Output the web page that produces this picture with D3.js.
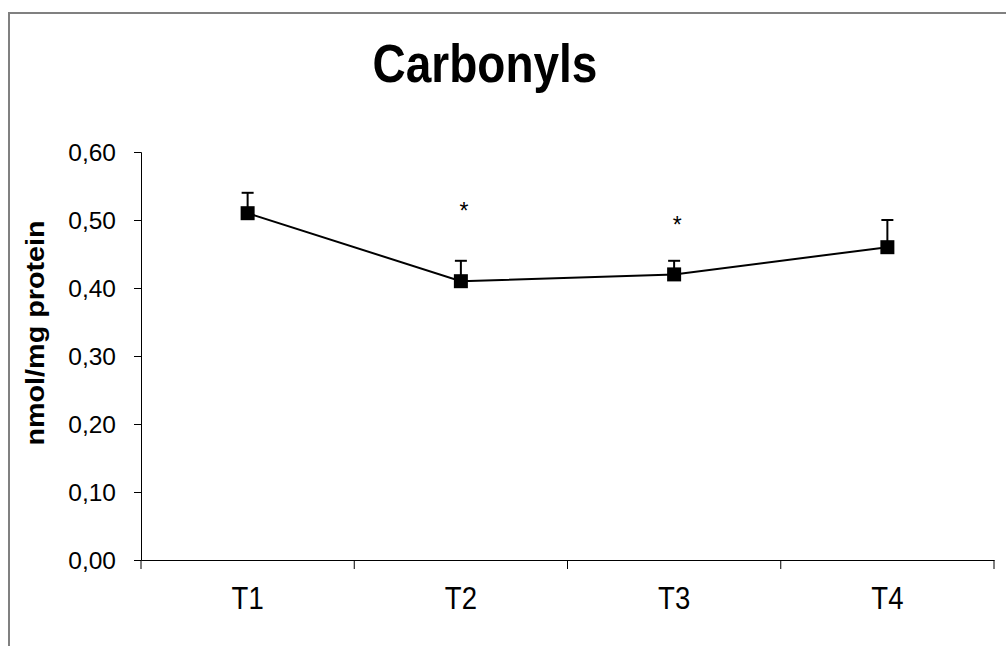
<!DOCTYPE html>
<meta charset="utf-8">
<style>
    body { margin: 0; background: #fff; }
    text { font-family: "Liberation Sans", Arial, sans-serif; fill: #000; }
</style>
<script src="https://d3js.org/d3.v7.min.js"></script>
<div id="chart"></div>
<script>
var categories = ["T1", "T2", "T3", "T4"];
var means = [0.51, 0.41, 0.42, 0.46];
var errors = [0.03, 0.03, 0.02, 0.04];
var stars = ["", "*", "*", ""];
var starValues = [null, 0.52, 0.50, null];
var yTicks = [0, 0.1, 0.2, 0.3, 0.4, 0.5, 0.6];

var width = 1006, height = 646;
var svg = d3.select("#chart").append("svg")
    .attr("width", width)
    .attr("height", height);

// outer frame (right and bottom edges fall outside the picture)
svg.append("rect")
    .attr("x", 9).attr("y", 13)
    .attr("width", 1020).attr("height", 660)
    .attr("fill", "none")
    .attr("stroke", "#808080")
    .attr("stroke-width", 2);

var x = d3.scaleBand().domain(categories).range([141, 994]);
var y = d3.scaleLinear().domain([0, 0.6]).range([560, 152]);
var fmt = function (d) { return d3.format(".2f")(d).replace(".", ","); };

svg.append("text")
    .attr("transform", "translate(485,82) scale(1,1.15)")
    .attr("text-anchor", "middle")
    .style("font-size", "46px").style("font-weight", "bold")
    .text("Carbonyls");

var yAxis = svg.append("g")
    .attr("transform", "translate(141,0)")
    .call(d3.axisLeft(y).tickValues(yTicks).tickFormat(fmt).tickSize(7).tickPadding(18));
yAxis.selectAll("text").style("font-size", "24.5px").attr("dy", "0.35em");

var xAxis = svg.append("g")
    .attr("transform", "translate(0,560)")
    .call(d3.axisBottom(x).tickSize(0).tickFormat(""));
// category labels, slightly stretched vertically like the original
xAxis.selectAll(".tick").append("text")
    .attr("transform", "translate(0,49) scale(1,1.13)")
    .attr("text-anchor", "middle")
    .style("font-size", "27.5px")
    .text(function (d) { return d; });
// category boundary ticks
xAxis.selectAll(".bound")
    .data(d3.range(categories.length + 1))
    .enter().append("line")
    .attr("class", "bound")
    .attr("x1", function (i) { return 141 + i * x.step(); })
    .attr("x2", function (i) { return 141 + i * x.step(); })
    .attr("y1", 0).attr("y2", 9)
    .attr("stroke", "#000");
svg.selectAll(".domain").attr("stroke", "#000").attr("stroke-width", 1);
svg.selectAll(".tick line").attr("stroke", "#000");

var cx = function (d, i) { return x(categories[i]) + x.bandwidth() / 2; };

// error bars (upper only)
svg.selectAll(".err")
    .data(means)
    .enter().append("line")
    .attr("x1", cx).attr("x2", cx)
    .attr("y1", function (d) { return y(d); })
    .attr("y2", function (d, i) { return y(d + errors[i]); })
    .attr("stroke", "#000").attr("stroke-width", 2);
svg.selectAll(".cap")
    .data(means)
    .enter().append("line")
    .attr("x1", function (d, i) { return cx(d, i) - 6; })
    .attr("x2", function (d, i) { return cx(d, i) + 6; })
    .attr("y1", function (d, i) { return y(d + errors[i]); })
    .attr("y2", function (d, i) { return y(d + errors[i]); })
    .attr("stroke", "#000").attr("stroke-width", 2);

var line = d3.line()
    .x(function (d, i) { return cx(d, i); })
    .y(function (d) { return y(d); });
svg.append("path")
    .datum(means)
    .attr("d", line)
    .attr("fill", "none")
    .attr("stroke", "#000")
    .attr("stroke-width", 2);

svg.selectAll(".marker")
    .data(means)
    .enter().append("rect")
    .attr("x", function (d, i) { return cx(d, i) - 7; })
    .attr("y", function (d) { return y(d) - 7; })
    .attr("width", 14).attr("height", 14)
    .attr("fill", "#000");

svg.selectAll(".star")
    .data(stars)
    .enter().append("text")
    .attr("x", function (d, i) { return cx(d, i) + 3; })
    .attr("y", function (d, i) { return starValues[i] == null ? 0 : y(starValues[i]) + 13; })
    .attr("text-anchor", "middle")
    .style("font-size", "23px")
    .text(function (d) { return d; });

svg.append("text")
    .attr("transform", "translate(44,333) rotate(-90) scale(1.15,1)")
    .attr("text-anchor", "middle")
    .style("font-size", "25px").style("font-weight", "bold")
    .text("nmol/mg protein");
</script>
